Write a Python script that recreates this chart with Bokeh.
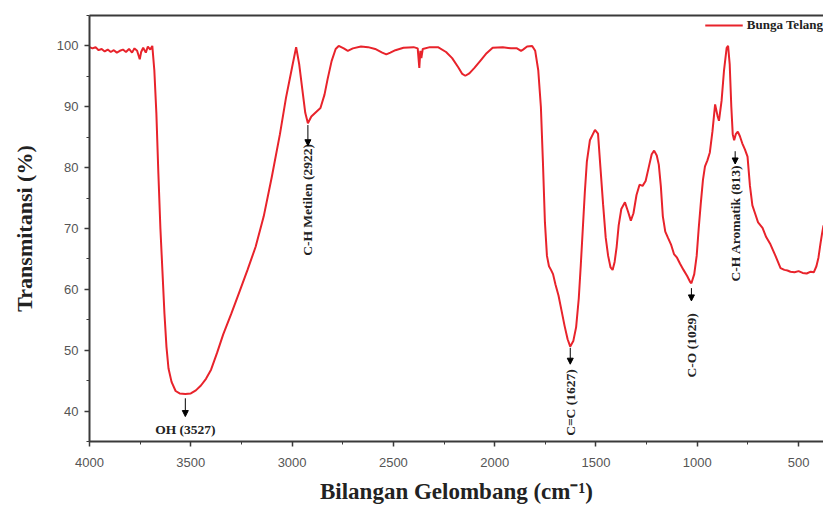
from bokeh.plotting import figure
from bokeh.models import (Range1d, LinearAxis, SingleIntervalTicker, FixedTicker,
                          Arrow, NormalHead, ColumnDataSource)
from bokeh.core.properties import value
from bokeh.embed import file_html
from bokeh.resources import INLINE
import math

# ---- spectrum data (wavenumber cm-1, transmittance %) ----
wavenumber = [
    4000, 3985, 3970, 3955, 3940, 3925, 3910, 3895, 3880, 3865, 3850, 3835,
    3820, 3805, 3790, 3778, 3765, 3752, 3745, 3735, 3722, 3712, 3700, 3690,
    3680, 3670, 3660, 3650, 3640, 3630, 3620, 3610, 3595, 3575, 3555, 3527,
    3500, 3475, 3450, 3425, 3400, 3370, 3340, 3300, 3260, 3220, 3180, 3140,
    3100, 3060, 3030, 3000, 2980, 2965, 2950, 2935, 2922, 2905, 2880, 2860,
    2840, 2825, 2805, 2785, 2770, 2745, 2725, 2700, 2660, 2625, 2590, 2555,
    2535, 2515, 2490, 2450, 2400, 2380, 2372, 2367, 2362, 2355, 2320, 2280,
    2240, 2210, 2180, 2160, 2145, 2125, 2100, 2070, 2040, 2010, 1960, 1920,
    1890, 1870, 1860, 1840, 1815, 1800, 1785, 1772, 1762, 1752, 1742, 1732,
    1722, 1712, 1700, 1685, 1670, 1655, 1640, 1627, 1612, 1598, 1585, 1575,
    1565, 1555, 1545, 1530, 1505, 1490, 1478, 1465, 1452, 1440, 1428, 1418,
    1408, 1398, 1388, 1375, 1357, 1342, 1328, 1315, 1300, 1285, 1270, 1255,
    1240, 1225, 1213, 1200, 1190, 1180, 1170, 1158, 1145, 1130, 1115, 1100,
    1085, 1068, 1050, 1035, 1029, 1015, 1003, 993, 983, 972, 962, 950,
    938, 925, 912, 900, 893, 880, 868, 855, 848, 840, 832, 825,
    818, 810, 800, 790, 778, 765, 752, 740, 728, 715, 700, 678,
    660, 639, 614, 589, 570, 555, 540, 520, 500, 480, 460, 440,
    425, 412, 402, 392, 385, 377,
]
transmittance = [
    99.8, 99.6, 99.8, 99.3, 99.5, 99.1, 99.4, 99.0, 99.3, 98.9, 99.2, 99.4,
    99.0, 99.5, 98.9, 99.6, 99.2, 97.8, 99.0, 99.7, 98.9, 99.9, 99.4, 100.0,
    96.0, 89.0, 79.0, 70.0, 63.0, 56.0, 50.5, 47.0, 44.8, 43.3, 42.9, 42.8,
    42.9, 43.4, 44.2, 45.3, 46.8, 49.6, 52.6, 56.0, 59.6, 63.2, 67.0, 72.0,
    78.5, 85.5, 91.5, 96.5, 99.8, 97.0, 93.0, 89.0, 87.3, 88.4, 89.2, 89.8,
    92.0, 94.5, 97.5, 99.5, 100.0, 99.6, 99.2, 99.6, 99.9, 99.8, 99.5, 98.9,
    98.6, 98.9, 99.3, 99.7, 99.8, 99.6, 96.4, 99.2, 98.0, 99.5, 99.8, 99.8,
    99.0, 98.0, 96.5, 95.4, 95.1, 95.5, 96.4, 97.6, 98.8, 99.7, 99.8, 99.6,
    99.6, 99.2, 99.4, 99.9, 100.0, 99.2, 96.0, 90.0, 81.0, 71.0, 65.5, 63.8,
    63.2, 62.5, 60.8, 59.0, 56.5, 54.0, 51.8, 50.6, 51.5, 53.8, 58.5, 64.0,
    70.0, 76.0, 81.0, 84.5, 86.2, 85.6, 80.0, 74.0, 68.5, 65.5, 63.6, 63.2,
    64.5, 67.0, 70.5, 73.2, 74.3, 72.8, 71.3, 72.5, 75.5, 77.2, 77.0, 77.8,
    80.0, 82.2, 82.8, 82.0, 80.5, 77.0, 72.0, 69.5, 68.5, 67.4, 65.8, 65.2,
    64.2, 63.2, 62.2, 61.2, 61.0, 62.5, 65.5, 70.0, 74.0, 78.0, 80.2, 81.2,
    82.5, 86.0, 90.4, 88.5, 87.7, 91.0, 96.0, 99.7, 100.0, 97.0, 90.0, 85.5,
    84.5, 85.5, 85.9, 85.2, 84.0, 83.0, 81.8, 77.0, 73.8, 72.5, 71.0, 70.1,
    68.6, 67.4, 65.5, 63.5, 63.2, 63.1, 62.9, 62.8, 63.0, 62.7, 62.6, 62.9,
    62.8, 63.8, 65.2, 67.5, 69.0, 70.5,
]
series_name = "Bunga Telang"

# ---- peak annotations ----
peak_labels = ["OH (3527)", "C-H Metilen (2922)", "C=C (1627)", "C-O (1029)", "C-H Aromatik (813)"]
peak_wavenumbers = [3527, 2922, 1627, 1029, 813]
label_y = [37.0, 74.7, 41.4, 50.8, 70.9]
arrow_y_start = [42.1, 87.0, 50.4, 60.2, 82.7]
arrow_y_end = [39.1, 83.6, 47.7, 58.1, 80.6]
label_angle = [0, math.pi / 2, math.pi / 2, math.pi / 2, math.pi / 2]

x_ticks_interval = 500
y_ticks_interval = 10

p = figure(width=823, height=509, output_backend="svg", toolbar_location=None,
           x_range=Range1d(4000, 377), y_range=Range1d(35, 105),
           min_border_left=89, min_border_right=0, min_border_top=15,
           min_border_bottom=68)
p.outline_line_color = None
p.xgrid.grid_line_color = None
p.ygrid.grid_line_color = None
p.background_fill_color = "white"
p.border_fill_color = "white"

src = ColumnDataSource(dict(x=wavenumber, y=transmittance))
p.line("x", "y", source=src, line_color="#e8232b", line_width=2,
       legend_label=series_name)

ann = ColumnDataSource(dict(wn=peak_wavenumbers, ty=label_y, label=peak_labels,
                            a0=arrow_y_start, a1=arrow_y_end, ang=label_angle))
p.text(x="wn", y="ty", text="label", angle="ang", source=ann,
       text_font=value("Liberation Serif"), text_font_style="bold",
       text_font_size="13.5px", text_align="center", text_baseline="middle",
       text_color="#222222")
p.add_layout(Arrow(end=NormalHead(size=6, fill_color="black", line_color="black"),
                   x_start="wn", y_start="a0", x_end="wn", y_end="a1",
                   source=ann, line_color="black", line_width=1))

axis_col = "#3a3a3a"
for ax, interval in ((p.xaxis[0], x_ticks_interval), (p.yaxis[0], y_ticks_interval)):
    ax.ticker = SingleIntervalTicker(interval=interval, num_minor_ticks=2)
    ax.axis_line_color = axis_col
    ax.axis_line_width = 2
    ax.major_tick_line_color = axis_col
    ax.major_tick_line_width = 1.5
    ax.major_tick_in = 0
    ax.major_tick_out = 5
    ax.minor_tick_line_color = axis_col
    ax.minor_tick_in = 0
    ax.minor_tick_out = 3
    ax.major_label_text_font = "Liberation Sans"
    ax.major_label_text_font_size = "13px"
    ax.major_label_text_color = "#555555"
    ax.axis_label_text_font = "Liberation Serif"
    ax.axis_label_text_font_style = "bold"
    ax.axis_label_text_color = "#222222"

p.xaxis.axis_label_text_font_size = "23px"
p.yaxis.axis_label_text_font_size = "22px"
p.xaxis.major_label_standoff = 11
p.yaxis.major_label_standoff = 6
p.xaxis.axis_label = "Bilangan Gelombang (cm\u207b\u00b9)"
p.yaxis.axis_label = "Transmitansi (%)"
p.xaxis.axis_label_standoff = 9
p.yaxis.axis_label_standoff = 17

top = LinearAxis(ticker=FixedTicker(ticks=[]), major_tick_out=0, major_tick_in=0,
                 major_label_standoff=0, axis_line_color=axis_col, axis_line_width=2)
p.add_layout(top, "above")

p.legend.location = "top_right"
p.legend.border_line_color = None
p.legend.background_fill_alpha = 0
p.legend.margin = 0
p.legend.padding = 1
p.legend.glyph_width = 38
p.legend.label_standoff = 4
p.legend.label_text_font = "Liberation Serif"
p.legend.label_text_font_style = "bold"
p.legend.label_text_font_size = "13px"
p.legend.label_text_color = "#222222"

open("out.html", "w").write(file_html(p, INLINE))
